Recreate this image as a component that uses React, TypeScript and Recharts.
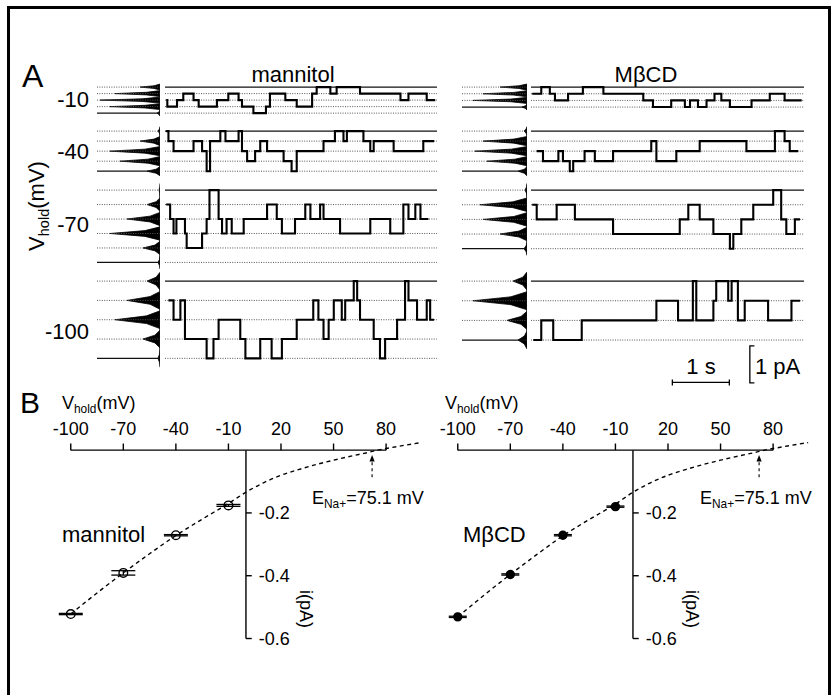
import React from 'react';
import {
  ComposedChart,
  Line,
  Area,
  XAxis,
  YAxis,
  ReferenceLine,
  ReferenceDot,
  Scatter,
  ErrorBar,
} from 'recharts';

const FONT = '"Liberation Sans", Arial, Helvetica, sans-serif';

// ================= DATA =================
// Panel B: single-channel current vs holding potential
const holdingV = [-100, -70, -40, -10];
const mannitolI = [-0.522, -0.391, -0.271, -0.176];
const mannitolSem = [0.002, 0.007, 0.002, 0.003];
const mbcdI = [-0.531, -0.396, -0.271, -0.18];
const mbcdSem = [0.002, 0.002, 0.002, 0.002];

// fitted curves
const fitV = [-100, -85, -70, -55, -40, -25, -10, 0, 10, 20, 30, 40, 50, 60, 70, 75.1, 80, 90, 100];
const mannitolFitI = [-0.522, -0.455, -0.391, -0.33, -0.272, -0.22, -0.17, -0.134, -0.104, -0.08, -0.062, -0.046, -0.032, -0.019, -0.007, 0, 0.005, 0.015, 0.024];
const mbcdFitI = [-0.531, -0.462, -0.396, -0.333, -0.273, -0.221, -0.172, -0.134, -0.104, -0.08, -0.062, -0.046, -0.032, -0.019, -0.007, 0, 0.005, 0.015, 0.024];

const vTicks = [-100, -70, -40, -10, 20, 50, 80];
const iTicks = [-0.2, -0.4, -0.6];
const eNaLabel = 75.1;
const eNaArrowV = 72;

// Panel A: traces (rows at these holding potentials)
const traceRowsV = [-10, -40, -70, -100];
const mannitolLevels = [4, 4, 5, 4];
const mbcdLevels = [3, 4, 4, 3];

// amplitude-histogram peak heights per level (level 0 = closed)
const mannitolPeaks = [
  [3, 50, 60, 45, 20],
  [13, 40, 50, 20, 2],
  [2, 17, 50, 33, 13, 1],
  [2, 17, 45, 33, 13],
];
const mbcdPeaks = [
  [5, 54, 44, 27],
  [9, 40, 52, 44, 3],
  [3, 27, 44, 47, 2],
  [9, 20, 54, 14],
];

// traces as [start time (s), number of open channels]
const mannitolM10 = [[0, 2], [0.02, 3], [0.19, 2], [0.3, 1], [0.48, 2], [0.57, 3], [0.89, 2], [1.09, 1], [1.27, 2], [1.33, 3], [1.53, 4], [1.75, 3], [1.82, 1], [2.09, 2], [2.29, 3], [2.56, 1], [2.64, 0], [2.88, 1], [2.99, 0], [3.4, 1], [4.11, 2], [4.25, 1], [4.57, 2]];
const mannitolM40 = [[0, 0], [0.04, 1], [0.13, 2], [0.48, 1], [0.63, 2], [0.71, 4], [0.77, 1], [0.95, 0], [1.04, 1], [1.27, 0], [1.33, 2], [1.42, 3], [1.56, 2], [1.65, 1], [1.77, 2], [2.06, 3], [2.2, 4], [2.29, 2], [2.76, 1], [2.96, 0], [3.11, 1], [3.17, 0], [3.46, 1], [3.58, 2], [3.64, 1], [3.99, 2], [4.51, 1]];
const mannitolM70 = [[0, 1], [0.07, 2], [0.13, 3], [0.18, 2], [0.33, 3], [0.36, 4], [0.63, 3], [0.71, 2], [0.76, 0], [0.92, 2], [0.98, 3], [1.06, 2], [1.15, 3], [1.36, 2], [1.77, 1], [1.94, 2], [2.03, 3], [2.26, 2], [2.44, 1], [2.53, 2], [2.7, 1], [2.76, 2], [3.05, 3], [3.58, 2], [3.93, 3], [4.16, 1], [4.25, 2], [4.37, 1], [4.46, 2]];
const mannitolM100 = [[0.04, 1], [0.13, 2], [0.25, 1], [0.33, 3], [0.71, 4], [0.83, 3], [0.92, 2], [1.3, 3], [1.39, 4], [1.65, 3], [1.85, 4], [2.03, 3], [2.29, 2], [2.58, 1], [2.67, 2], [2.76, 3], [2.85, 2], [2.94, 1], [3.08, 2], [3.14, 1], [3.29, 0], [3.35, 1], [3.4, 2], [3.64, 3], [3.75, 4], [3.84, 3], [4.05, 2], [4.19, 0], [4.25, 1], [4.4, 2], [4.57, 1], [4.63, 2]];
const mannitolEnds = [4.72, 4.7, 4.6, 4.7];

const mbcdM10 = [[0, 1], [0.16, 0], [0.31, 1], [0.4, 2], [0.63, 1], [0.89, 0], [1.25, 1], [1.95, 2], [2.12, 3], [2.44, 2], [2.68, 3], [2.77, 2], [2.91, 3], [3.06, 2], [3.2, 1], [3.32, 2], [3.47, 3], [3.85, 2], [4.17, 1], [4.43, 2]];
const mbcdM40 = [[0.08, 2], [0.19, 3], [0.46, 2], [0.54, 3], [0.66, 4], [0.72, 3], [0.92, 2], [1.1, 3], [1.42, 2], [2.09, 1], [2.18, 3], [2.53, 2], [2.94, 1], [3.76, 2], [4.26, 0], [4.43, 1], [4.52, 2]];
const mbcdM70 = [[0, 1], [0.08, 2], [0.43, 1], [0.75, 2], [1.42, 3], [2.59, 2], [2.74, 1], [2.94, 2], [3.18, 3], [3.47, 4], [3.53, 3], [3.67, 2], [3.88, 1], [4.23, 0], [4.37, 2], [4.46, 3], [4.61, 2]];
const mbcdM100 = [[0.02, 3], [0.16, 2], [0.37, 3], [0.87, 2], [2.18, 1], [2.56, 2], [2.82, 0], [2.88, 2], [3.18, 1], [3.23, 0], [3.44, 1], [3.5, 0], [3.61, 2], [3.73, 1], [4.14, 2], [4.55, 1]];
const mbcdEnds = [4.73, 4.67, 4.7, 4.7];

// scale bars
const scaleBarSeconds = 1;
const scaleBarPicoamps = 1;

// ================= LAYOUT / STYLE =================
const PX_PER_PA = 37;
const PAD = 0.3; // pA of space above/below each row
const PROFILE_OFF = [0.46, 0.2, 0, -0.2, -0.46];
const PROFILE_W = [0, 0.3, 1, 0.3, 0];

const unitCurrent = (arr: number[], v: number) => arr[holdingV.indexOf(v)];

function buildTrace(segs: number[][], end: number, unit: number) {
  const pts = segs.map(([t, n]) => ({ t, i: n * unit }));
  pts.push({ t: end, i: segs[segs.length - 1][1] * unit });
  return pts;
}

function buildHist(peaks: number[], unit: number) {
  const pts: { i: number; c: number }[] = [];
  peaks.forEach((p, k) => {
    PROFILE_OFF.forEach((o, j) => pts.push({ i: (k - o) * unit, c: p * PROFILE_W[j] }));
  });
  return pts;
}

const Txt = ({ x, y, size, children, anchor = 'middle', rotate = 0 }: any) => {
  const tx = anchor === 'start' ? '0%' : anchor === 'end' ? '-100%' : '-50%';
  return (
    <div
      style={{
        position: 'absolute',
        left: x,
        top: y,
        fontFamily: FONT,
        fontSize: size,
        lineHeight: 1,
        whiteSpace: 'nowrap',
        color: '#000',
        transform: `translate(${tx},-50%) rotate(${rotate}deg)`,
      }}
    >
      {children}
    </div>
  );
};

const Sub = ({ children }: any) => (
  <span style={{ fontSize: '0.66em', position: 'relative', top: '0.32em' }}>{children}</span>
);

const Abs = ({ x, y, children }: any) => (
  <div style={{ position: 'absolute', left: x, top: y }}>{children}</div>
);

function TraceRow(props: any) {
  const { segs, end, unit, levels, peaks, baseY, histLeft, histWidth, histMax, traceLeft, traceWidth, tMax } = props;
  const top = PAD;
  const bottom = levels * unit - PAD;
  const h = (top - bottom) * PX_PER_PA;
  const chartTop = baseY - PAD * PX_PER_PA;
  const traceData = buildTrace(segs, end, unit);
  const histData = buildHist(peaks, unit);
  const lvls = Array.from({ length: levels + 1 }, (_, k) => k * unit);
  const lineProps = (k: number) =>
    k === 0
      ? { stroke: '#111', strokeWidth: 1.3 }
      : { stroke: '#555', strokeWidth: 1, strokeDasharray: '1 1.4' };
  return (
    <>
      <Abs x={histLeft} y={chartTop}>
        <ComposedChart
          layout="vertical"
          width={histWidth}
          height={h}
          data={histData}
          margin={{ top: 0, right: 0, bottom: 0, left: 0 }}
        >
          <XAxis type="number" domain={[0, histMax]} reversed hide allowDataOverflow />
          <YAxis type="number" dataKey="i" domain={[bottom, top]} hide allowDataOverflow />
          {lvls.map((y, k) => (
            <ReferenceLine key={k} y={y} {...lineProps(k)} />
          ))}
          <ReferenceLine
            segment={[
              { x: 0, y: 0.06 },
              { x: 0, y: levels * unit - 0.06 },
            ]}
            stroke="#111"
            strokeWidth={1.2}
          />
          <Area
            type="linear"
            dataKey="c"
            stroke="#000"
            strokeWidth={0.8}
            fill="#000"
            fillOpacity={1}
            isAnimationActive={false}
          />
        </ComposedChart>
      </Abs>
      <Abs x={traceLeft} y={chartTop}>
        <ComposedChart
          width={traceWidth}
          height={h}
          data={traceData}
          margin={{ top: 0, right: 0, bottom: 0, left: 0 }}
        >
          <XAxis type="number" dataKey="t" domain={[-0.02, tMax]} hide allowDataOverflow />
          <YAxis type="number" domain={[bottom, top]} hide allowDataOverflow />
          {lvls.map((y, k) => (
            <ReferenceLine key={k} y={y} {...lineProps(k)} />
          ))}
          <Line
            type="stepAfter"
            dataKey="i"
            stroke="#000"
            strokeWidth={2.1}
            dot={false}
            isAnimationActive={false}
          />
        </ComposedChart>
      </Abs>
    </>
  );
}

const ArrowHead = (p: any) => (
  <path d={`M${p.cx},${p.cy - 3.5} L${p.cx - 2.6},${p.cy + 3} L${p.cx + 2.6},${p.cy + 3} Z`} fill="#000" />
);

function IVPlot({ x, pts, sem, fit, filled }: any) {
  const points = holdingV.map((v, k) => ({ v, i: pts[k], e: sem[k] }));
  const fitData = fitV.map((v, k) => ({ v, i: fit[k] }));
  const axisH = 30;
  const mLeft = 30;
  const mBottom = 14;
  const pxPerMv = 1.752;
  const pxPerPa = 314;
  const xDom = [-105, 105];
  const yDom = [-0.62, 0.045];
  const w = (xDom[1] - xDom[0]) * pxPerMv;
  const ph = (yDom[1] - yDom[0]) * pxPerPa;
  const plotTop = 450 - yDom[1] * pxPerPa;
  const left = x - (-100 - xDom[0]) * pxPerMv;
  const black = { stroke: '#000', strokeWidth: 1.4 };
  return (
    <Abs x={left - mLeft} y={plotTop - axisH}>
      <ComposedChart
        width={w + mLeft}
        height={ph + axisH + mBottom}
        margin={{ top: 0, right: 0, bottom: mBottom, left: mLeft }}
      >
        <XAxis
          type="number"
          dataKey="v"
          orientation="top"
          height={axisH}
          domain={xDom}
          ticks={vTicks}
          interval={0}
          allowDataOverflow
          axisLine={false}
          tickLine={false}
          tickSize={0}
          tickMargin={1}
          tick={{ fontSize: 18, fill: '#000', fontFamily: FONT }}
        />
        <YAxis type="number" dataKey="i" domain={yDom} hide allowDataOverflow />
        <ReferenceLine segment={[{ x: -100, y: 0 }, { x: 80, y: 0 }]} {...black} />
        {vTicks.map((v) => (
          <ReferenceLine key={v} segment={[{ x: v, y: 0 }, { x: v, y: 0.021 }]} {...black} />
        ))}
        <ReferenceLine segment={[{ x: 0, y: 0 }, { x: 0, y: -0.6 }]} {...black} />
        {iTicks.map((t) => (
          <ReferenceLine
            key={t}
            segment={[{ x: 0, y: t }, { x: 3.3, y: t }]}
            {...black}
            label={{ value: t.toFixed(1), position: 'right', offset: 7, fill: '#000', fontSize: 18, fontFamily: FONT }}
          />
        ))}
        <ReferenceLine
          segment={[{ x: eNaArrowV, y: -0.086 }, { x: eNaArrowV, y: -0.035 }]}
          stroke="#000"
          strokeWidth={1.1}
          strokeDasharray="3 3"
        />
        <ReferenceDot x={eNaArrowV} y={-0.027} r={3} shape={ArrowHead} />
        <Line
          data={fitData}
          type="monotone"
          dataKey="i"
          stroke="#000"
          strokeWidth={1.4}
          strokeDasharray="4 3.5"
          dot={false}
          isAnimationActive={false}
        />
        <Scatter
          data={points}
          dataKey="i"
          isAnimationActive={false}
          shape={(p: any) => (
            <circle
              cx={p.cx}
              cy={p.cy}
              r={filled ? 4 : 4.3}
              fill={filled ? '#000' : 'none'}
              stroke="#000"
              strokeWidth={1.4}
            />
          )}
        >
          <ErrorBar dataKey="e" direction="y" width={filled ? 9 : 12} stroke="#000" strokeWidth={1.3} />
        </Scatter>
      </ComposedChart>
    </Abs>
  );
}

const mannitolTraces = [mannitolM10, mannitolM40, mannitolM70, mannitolM100];
const mbcdTraces = [mbcdM10, mbcdM40, mbcdM70, mbcdM100];
const mannitolRowY = [87.5, 131, 190, 280.8];
const mbcdRowY = [87.5, 131.5, 190, 280.8];
const rowLabelY = [100, 151.7, 225, 331.7];

function ScaleBars() {
  // same scales as the MβCD trace chart: ~57 px/s, 37 px/pA
  const left = 531;
  const width = 273;
  const tMax = 4.77;
  const h = 50;
  const yTop = h / PX_PER_PA;
  const t0 = 2.46;
  const yBar = 0.205;
  const tV = 3.82;
  const iV0 = 0.19;
  const sBar = [
    { t: t0, y: yBar },
    { t: t0 + scaleBarSeconds, y: yBar },
  ];
  const aBar = [
    { t: tV + 0.08, y: iV0 + scaleBarPicoamps },
    { t: tV, y: iV0 + scaleBarPicoamps },
    { t: tV, y: iV0 },
    { t: tV + 0.08, y: iV0 },
  ];
  const s = { stroke: '#000', strokeWidth: 1.3 };
  return (
    <Abs x={left} y={340}>
      <ComposedChart width={width} height={h} margin={{ top: 0, right: 0, bottom: 0, left: 0 }}>
        <XAxis type="number" dataKey="t" domain={[-0.02, tMax]} hide allowDataOverflow />
        <YAxis type="number" dataKey="y" domain={[0, yTop]} hide allowDataOverflow />
        <Line data={sBar} dataKey="y" type="linear" dot={false} {...s} isAnimationActive={false} />
        <Line data={aBar} dataKey="y" type="linear" dot={false} {...s} isAnimationActive={false} />
        <ReferenceLine segment={[{ x: t0, y: yBar - 0.08 }, { x: t0, y: yBar + 0.08 }]} {...s} />
        <ReferenceLine
          segment={[
            { x: t0 + scaleBarSeconds, y: yBar - 0.08 },
            { x: t0 + scaleBarSeconds, y: yBar + 0.08 },
          ]}
          {...s}
        />
      </ComposedChart>
    </Abs>
  );
}

export default function App() {
  return (
    <div
      style={{
        position: 'absolute',
        left: 0,
        top: 0,
        width: 832,
        height: 695,
        overflow: 'hidden',
        background: '#fff',
      }}
    >
      <div
        style={{
          position: 'absolute',
          left: 7,
          top: 6,
          width: 818,
          height: 720,
          border: '3px solid #000',
        }}
      />

      {/* ---------- Panel A ---------- */}
      <Txt x={22} y={76} size={32} anchor="start">A</Txt>
      <Txt x={293} y={75} size={22}>mannitol</Txt>
      <Txt x={646} y={75} size={22}>MβCD</Txt>
      <Txt x={37} y={206} size={22} rotate={-90}>
        V<Sub>hold</Sub>(mV)
      </Txt>
      {traceRowsV.map((v, r) => (
        <Txt key={v} x={89} y={rowLabelY[r]} size={22} anchor="end">
          {String(v)}
        </Txt>
      ))}
      {traceRowsV.map((v, r) => (
        <TraceRow
          key={'m' + v}
          segs={mannitolTraces[r]}
          end={mannitolEnds[r]}
          unit={unitCurrent(mannitolI, v)}
          levels={mannitolLevels[r]}
          peaks={mannitolPeaks[r]}
          baseY={mannitolRowY[r]}
          histLeft={97}
          histWidth={63}
          histMax={63}
          traceLeft={165}
          traceWidth={272}
          tMax={4.75}
        />
      ))}
      {traceRowsV.map((v, r) => (
        <TraceRow
          key={'b' + v}
          segs={mbcdTraces[r]}
          end={mbcdEnds[r]}
          unit={unitCurrent(mbcdI, v)}
          levels={mbcdLevels[r]}
          peaks={mbcdPeaks[r]}
          baseY={mbcdRowY[r]}
          histLeft={462}
          histWidth={65}
          histMax={65}
          traceLeft={531}
          traceWidth={273}
          tMax={4.77}
        />
      ))}
      <ScaleBars />
      <Txt x={701} y={367} size={22}>1 s</Txt>
      <Txt x={755} y={367} size={22} anchor="start">1 pA</Txt>

      {/* ---------- Panel B ---------- */}
      <Txt x={20} y={403} size={30} anchor="start">B</Txt>
      <Txt x={62} y={403} size={18} anchor="start">
        V<Sub>hold</Sub>(mV)
      </Txt>
      <Txt x={445} y={403} size={18} anchor="start">
        V<Sub>hold</Sub>(mV)
      </Txt>
      <IVPlot x={71} pts={mannitolI} sem={mannitolSem} fit={mannitolFitI} filled={false} />
      <IVPlot x={457.3} pts={mbcdI} sem={mbcdSem} fit={mbcdFitI} filled={true} />
      <Txt x={62} y={535} size={22} anchor="start">mannitol</Txt>
      <Txt x={463} y={535} size={22} anchor="start">MβCD</Txt>
      <Txt x={312} y={498} size={18} anchor="start">
        E<Sub>Na+</Sub>={eNaLabel} mV
      </Txt>
      <Txt x={700} y={498} size={18} anchor="start">
        E<Sub>Na+</Sub>={eNaLabel} mV
      </Txt>
      <Txt x={306} y={609} size={18} rotate={90}>i(pA)</Txt>
      <Txt x={691.7} y={609} size={18} rotate={90}>i(pA)</Txt>
    </div>
  );
}
